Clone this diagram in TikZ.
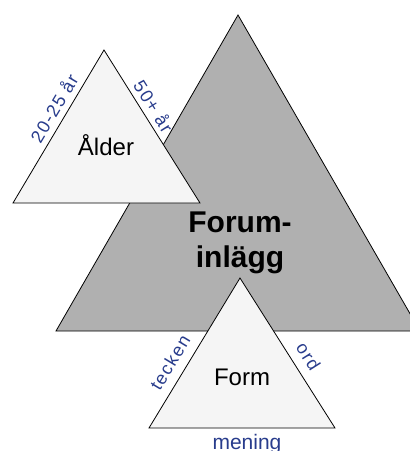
\documentclass[tikz,border=0pt]{standalone}
\usepackage{fontspec}
\setmainfont{Liberation Sans}
\usetikzlibrary{positioning}
\definecolor{forumgray}{RGB}{176,176,176}
\definecolor{lightfill}{RGB}{245,245,245}
\definecolor{labelblue}{RGB}{40,60,140}
\tikzstyle{bigtri} = [draw=black, line width=0.8pt, fill=forumgray]
\tikzstyle{smalltri} = [draw=black, line width=0.8pt, fill=lightfill]
\tikzstyle{title} = [font=\fontsize{24}{28}\selectfont, inner sep=0pt, anchor=base]
\tikzstyle{sidelabel} = [font=\fontsize{18}{20}\selectfont\addfontfeatures{LetterSpace=8}, text=labelblue, inner sep=0pt, sloped]

\begin{document}
\begin{tikzpicture}[x=1pt, y=-1pt]
  \useasboundingbox (0,0) rectangle (410,451);
  \clip (0,0) rectangle (410,451);

  % big triangle
  \coordinate (fl) at (56,331);
  \coordinate (ft) at (238,15);
  \coordinate (fr) at (420,331);
  \draw[bigtri] (fl) -- (ft) -- (fr) -- cycle;
  \node (forum) [font=\bfseries\fontsize{30}{35}\selectfont, align=center, inner sep=0pt] at (240,243) {Forum-\\inlägg};

  % age triangle
  \coordinate (al) at (13,203);
  \coordinate (at) at (104,50);
  \coordinate (ar) at (200,203);
  \draw[smalltri] (al) -- (at) -- (ar) -- cycle;
  \node (alder) [title] at (106,155) {Ålder};
  \path (al) -- (at) node (young) [sidelabel, pos=.575, above=6pt] {20-25 år};
  \path (at) -- (ar) node (old) [sidelabel, pos=.41, above=5pt] {50+ år};

  % form triangle
  \coordinate (ml) at (149,428);
  \coordinate (mt) at (240,278);
  \coordinate (mr) at (335,428);
  \draw[smalltri] (ml) -- (mt) -- (mr) -- cycle;
  \node (form) [title] at (242,385) {Form};
  \path (ml) -- (mt) node (sign) [sidelabel, pos=.38, above=9pt] {tecken};
  \path (mt) -- (mr) node (word) [sidelabel, pos=.58, above=9pt] {ord};
  \node (sentence) [font=\fontsize{21}{24}\selectfont, text=labelblue, inner sep=0pt, anchor=base] at (247,449) {mening};
\end{tikzpicture}
\end{document}
